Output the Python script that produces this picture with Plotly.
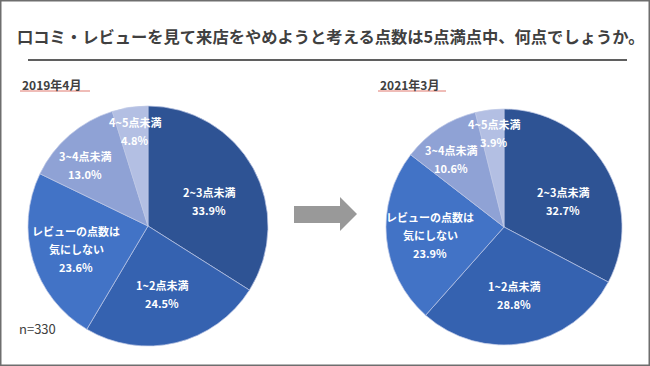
import math
import plotly.graph_objects as go

title_text = "口コミ・レビューを見て来店をやめようと考える点数は5点満点中、何点でしょうか。"
categories = ["2~3点未満", "1~2点未満", "レビューの点数は<br>気にしない", "3~4点未満", "4~5点未満"]
values_2019 = [33.9, 24.5, 23.6, 13.0, 4.8]
values_2021 = [32.7, 28.8, 23.9, 10.6, 3.9]
period_labels = ["2019年4月", "2021年3月"]
sample_note = "n=330"

# style
slice_colors = ["#2E5394", "#3562B0", "#4273C6", "#8FA2D5", "#B3BFE3"]
label_radius = [0.55, 0.58, 0.63, 0.73, 0.8]   # label distance from centre (fraction of radius)
label_turn = [7, 2, -1, -5, 1]                  # degrees added to each slice's mid angle for its label
line_gap = 18  # px between label lines

W, H = 650, 366
FONT = "Noto Sans CJK JP"


def px(x):
    return x / W


def py(y):
    return 1 - y / H


def pie_domain(cx, cy, r):
    return dict(x=[px(cx - r), px(cx + r)], y=[py(cy + r), py(cy - r)])


pies = [(values_2019, (148, 226, 120)), (values_2021, (504, 227, 118))]

fig = go.Figure()
annotations = []
for vals, (cx, cy, r) in pies:
    fig.add_trace(go.Pie(
        labels=categories,
        values=vals,
        sort=False,
        direction="clockwise",
        rotation=0,
        domain=pie_domain(cx, cy, r),
        marker=dict(colors=slice_colors, line=dict(color="rgba(190,200,230,0.7)", width=1)),
        textinfo="none",
        showlegend=False,
        hoverinfo="label+value",
    ))
    total = sum(vals)
    cum = 0.0
    for lab, v, rf, turn in zip(categories, vals, label_radius, label_turn):
        theta = 2 * math.pi * (cum + v / 2) / total + math.radians(turn)
        cum += v
        lx = cx + rf * r * math.sin(theta)
        ly = cy - rf * r * math.cos(theta)
        lines = lab.split("<br>") + [f"{v:.1f}%"]
        n = len(lines)
        for i, t in enumerate(lines):
            annotations.append(dict(
                x=px(lx), y=py(ly), xref="paper", yref="paper", text=t, showarrow=False,
                xanchor="center", yanchor="middle", yshift=((n - 1) / 2 - i) * line_gap,
                font=dict(family=FONT, size=11, color="white", weight=700)))

annotations += [
    dict(x=px(330), y=py(36), xref="paper", yref="paper", text=title_text, showarrow=False,
         font=dict(family=FONT, size=16.3, color="#404040", weight=700), xanchor="center", yanchor="middle"),
    dict(x=px(20), y=py(84), xref="paper", yref="paper", text=period_labels[0], showarrow=False,
         font=dict(family=FONT, size=12, color="#404040", weight=700), xanchor="left", yanchor="middle"),
    dict(x=px(378), y=py(84), xref="paper", yref="paper", text=period_labels[1], showarrow=False,
         font=dict(family=FONT, size=12, color="#404040", weight=700), xanchor="left", yanchor="middle"),
    dict(x=px(17), y=py(328), xref="paper", yref="paper", text=sample_note, showarrow=False,
         font=dict(family=FONT, size=13, color="#404040"), xanchor="left", yanchor="middle"),
]

arrow_path = "M {},{} L {},{} L {},{} L {},{} L {},{} L {},{} L {},{} Z".format(
    px(294), py(206), px(340), py(206), px(340), py(197), px(357), py(214),
    px(340), py(231), px(340), py(223), px(294), py(223))

shapes = [
    dict(type="rect", xref="paper", yref="paper", x0=px(0.75), x1=px(649.25), y0=py(365.25), y1=py(0.75),
         line=dict(color="#6E6E6E", width=1.5)),
    dict(type="line", xref="paper", yref="paper", x0=px(28), x1=px(627), y0=py(60), y1=py(60),
         line=dict(color="#5F5F5F", width=2)),
    dict(type="line", xref="paper", yref="paper", x0=px(20), x1=px(90), y0=py(91), y1=py(91),
         line=dict(color="#E07B70", width=1)),
    dict(type="line", xref="paper", yref="paper", x0=px(378), x1=px(446), y0=py(91), y1=py(91),
         line=dict(color="#E07B70", width=1)),
    dict(type="path", xref="paper", yref="paper", path=arrow_path,
         fillcolor="#999999", line=dict(color="#999999", width=0)),
]

fig.update_layout(
    width=W, height=H,
    margin=dict(l=0, r=0, t=0, b=0),
    paper_bgcolor="white",
    plot_bgcolor="white",
    annotations=annotations,
    shapes=shapes,
    font=dict(family=FONT),
)

fig.write_html("out.html", config={"displayModeBar": False},
               post_script="document.body.style.margin='0px';document.body.style.overflow='hidden';")
